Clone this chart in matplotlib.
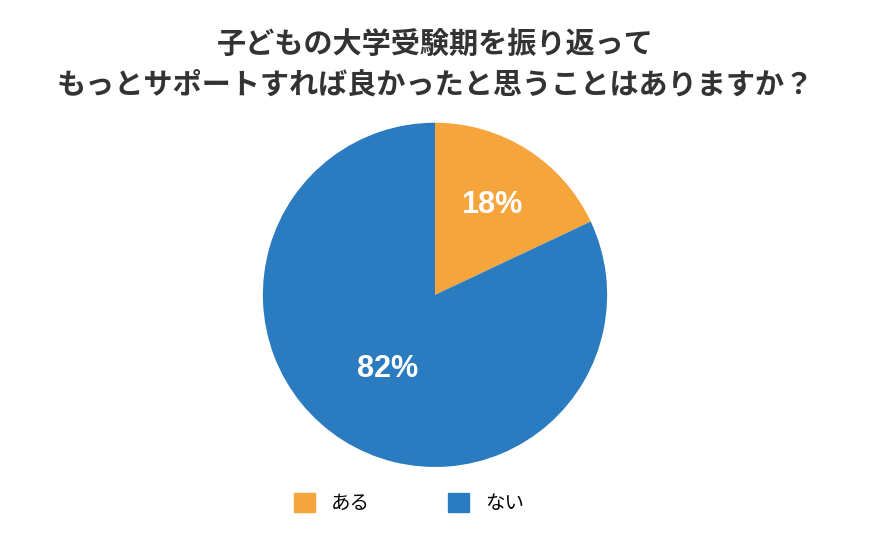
import matplotlib
matplotlib.use("Agg")
import matplotlib.pyplot as plt
from matplotlib.patches import Patch
import numpy as np

plt.rcParams['font.family'] = ['Noto Sans CJK JP', 'DejaVu Sans']

labels = ["ある", "ない"]
values = [18, 82]
colors = ["#F5A53B", "#2A7BBF"]
title = "子どもの大学受験期を振り返って\nもっとサポートすれば良かったと思うことはありますか？"

fig = plt.figure(figsize=(8.7, 5.43), dpi=100)
ax = fig.add_axes([0.5 - 0.198, 0.457 - 0.317, 0.396, 0.634])
wedges, _ = ax.pie(values, colors=colors, startangle=90, counterclock=False, radius=1.0)
ax.set_xlim(-1, 1); ax.set_ylim(-1, 1)
ax.set_aspect("equal")
dists = [0.62, 0.51]
for w, v, d in zip(wedges, values, dists):
    ang = np.deg2rad((w.theta1 + w.theta2) / 2)
    ax.text(d * np.cos(ang), d * np.sin(ang), f"{v}%", ha="center", va="center",
            color="white", fontsize=22, fontweight="bold", family="Liberation Sans")
fig.text(0.5, 0.882, title, ha="center", va="center", fontsize=21, fontweight="bold",
         color="#333333", linespacing=1.45)
handles = [Patch(color=c, label=l) for c, l in zip(colors, labels)]
fig.legend(handles=handles, loc="center", bbox_to_anchor=(0.47, 0.073), ncol=2, frameon=False,
           fontsize=14, handlelength=1.1, handleheight=1.1, columnspacing=4.0, handletextpad=0.8)
fig.savefig("out.png", dpi=100, facecolor="white")
